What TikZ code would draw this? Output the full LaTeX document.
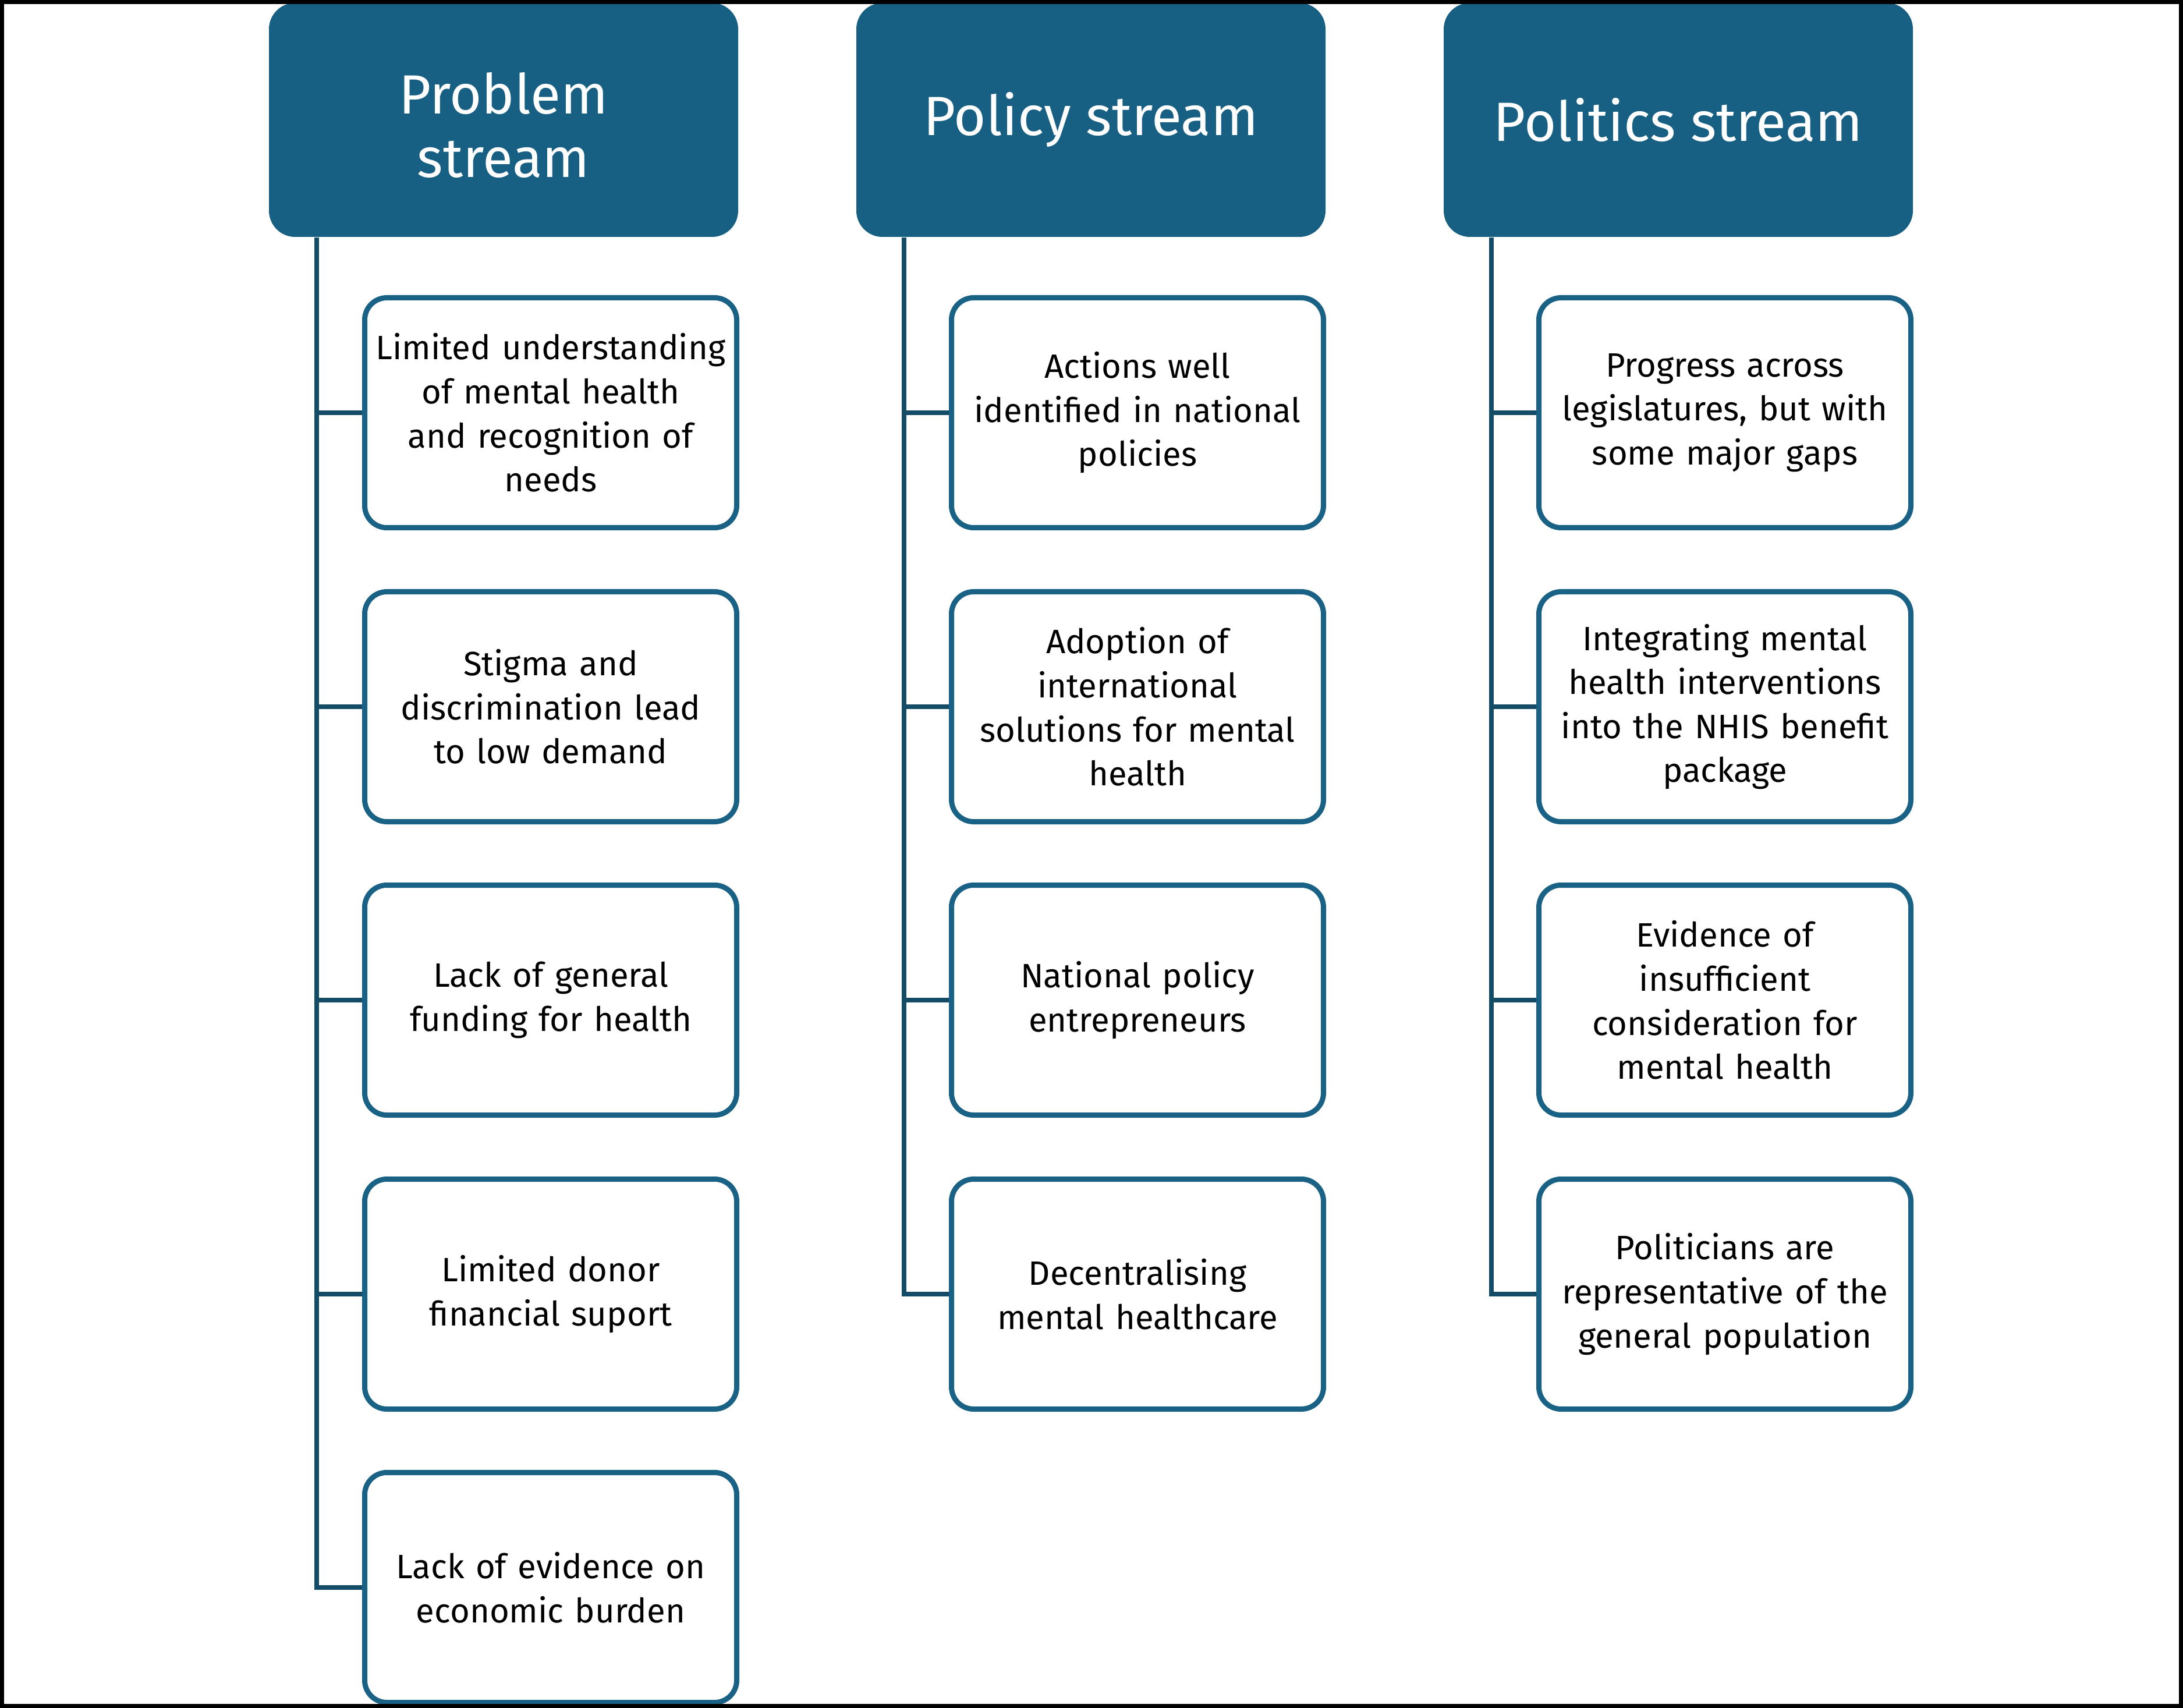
\documentclass[tikz,border=0pt]{standalone}
\usepackage{fontspec}
\setmainfont{Fira Sans}
\usepackage{tikz}
\definecolor{streamblue}{RGB}{24,96,131}
\definecolor{boxblue}{RGB}{25,98,133}
\definecolor{linkblue}{RGB}{20,75,102}

\begin{document}
\begin{tikzpicture}[
    header/.style={fill=streamblue, text=white, rounded corners=0.45cm,
        minimum width=8.06cm, minimum height=4.02cm, align=center,
        font=\fontsize{27}{31}\selectfont},
    item/.style={draw=boxblue, line width=0.09cm, rounded corners=0.38cm,
        fill=white, minimum width=6.39cm, minimum height=3.95cm,
        text width=6.2cm, align=center, inner sep=0pt,
        font=\fontsize{16.5}{21.5}\selectfont},
    trunk/.style={draw=linkblue, line width=0.08cm}
  ]
  \useasboundingbox (0,0) rectangle (37.5,-29.34);

  \node[header, text height=62pt, text depth=6pt] (hprob) at (8.65,-2.06) {Problem\\stream};
  \node[header] (hpoli) at (18.74,-2.06) {Policy stream};
  \node[header] (hpolt) at (28.83,-2.06) {Politics stream};

  \node[item] (prob1) at (9.46,-7.09) {Limited understanding\\of mental health\\and recognition of\\needs};
  \node[item] (prob2) at (9.46,-12.14) {Stigma and\\discrimination lead\\to low demand};
  \node[item] (prob3) at (9.46,-17.18) {Lack of general\\funding for health};
  \node[item] (prob4) at (9.46,-22.23) {Limited donor\\financial suport};
  \node[item] (prob5) at (9.46,-27.27) {Lack of evidence on\\economic burden};

  \node[item] (poli1) at (19.54,-7.09) {Actions well\\identified in national\\policies};
  \node[item] (poli2) at (19.54,-12.14) {Adoption of\\international\\solutions for mental\\health};
  \node[item] (poli3) at (19.54,-17.18) {National policy\\entrepreneurs};
  \node[item] (poli4) at (19.54,-22.23) {Decentralising\\mental healthcare};

  \node[item] (polt1) at (29.63,-7.09) {Progress across\\legislatures, but with\\some major gaps};
  \node[item] (polt2) at (29.63,-12.14) {Integrating mental\\health interventions\\into the NHIS benefit\\package};
  \node[item] (polt3) at (29.63,-17.18) {Evidence of\\insufficient\\consideration for\\mental health};
  \node[item] (polt4) at (29.63,-22.23) {Politicians are\\representative of the\\general population};

  \foreach \n in {1,...,5}
    \draw[trunk] ([xshift=0.83cm]hprob.south west) |- (prob\n.west);
  \foreach \n in {1,...,4} {
    \draw[trunk] ([xshift=0.83cm]hpoli.south west) |- (poli\n.west);
    \draw[trunk] ([xshift=0.83cm]hpolt.south west) |- (polt\n.west);
  }

  \draw[line width=0.07cm] (0.035,-0.035) rectangle (37.465,-29.305);
\end{tikzpicture}
\end{document}
